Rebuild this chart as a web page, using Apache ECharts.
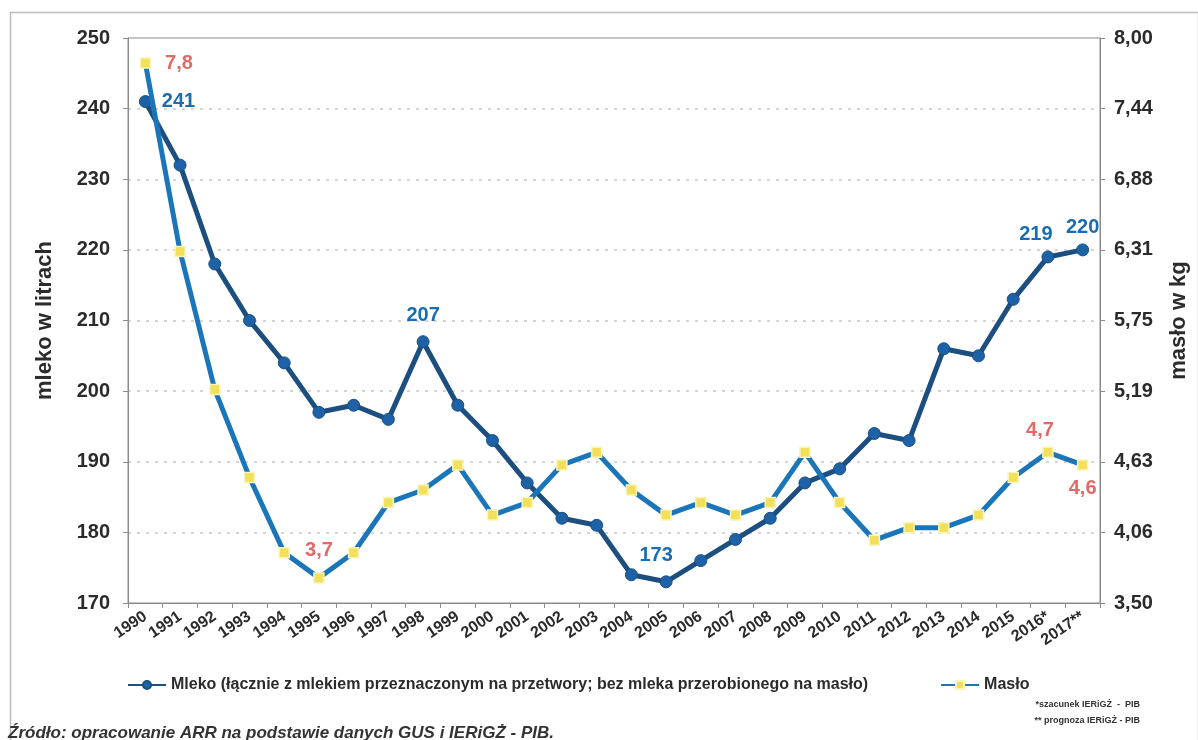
<!DOCTYPE html>
<html>
<head>
<meta charset="utf-8">
<script src="https://cdn.jsdelivr.net/npm/echarts@6/dist/echarts.min.js"></script>
<style>
  html, body { margin: 0; padding: 0; background: #ffffff; }
  #chart { width: 1198px; height: 740px; }
</style>
</head>
<body>
<div id="chart"></div>
<script>
// ---- data ----
const years = ['1990','1991','1992','1993','1994','1995','1996','1997','1998','1999','2000','2001','2002','2003','2004','2005','2006','2007','2008','2009','2010','2011','2012','2013','2014','2015','2016*','2017**'];
const milk = [241, 232, 218, 210, 204, 197, 198, 196, 207, 198, 193, 187, 182, 181, 174, 173, 176, 179, 182, 187, 189, 194, 193, 206, 205, 213, 219, 220];
const butter = [7.8, 6.3, 5.2, 4.5, 3.9, 3.7, 3.9, 4.3, 4.4, 4.6, 4.2, 4.3, 4.6, 4.7, 4.4, 4.2, 4.3, 4.2, 4.3, 4.7, 4.3, 4.0, 4.1, 4.1, 4.2, 4.5, 4.7, 4.6];
const leftTicks = ['170','180','190','200','210','220','230','240','250'];
const rightTicks = ['3,50','4,06','4,63','5,19','5,75','6,31','6,88','7,44','8,00'];
const milkName = 'Mleko (łącznie z mlekiem przeznaczonym na przetwory; bez mleka przerobionego na masło)';
const butterName = 'Masło';
const milkLabelled = [0, 8, 15, 26, 27];
const butterLabelled = [0, 5, 26, 27];

// ---- styling / build ----
const FONT = '"Liberation Sans", Arial, sans-serif';
const milkLabelCfg = {
  0: { position: 'right', distance: 10 },
  8: { position: 'top', distance: 10 },
  15: { position: 'top', distance: 10, offset: [-10, 0] },
  26: { position: 'top', distance: 6, offset: [-12, 0] },
  27: { position: 'top', distance: 6 }
};
const butterLabelCfg = {
  0: { position: 'right', distance: 14 },
  5: { position: 'top', distance: 12 },
  26: { position: 'top', distance: 6, offset: [-8, 0] },
  27: { position: 'bottom', distance: 8 }
};
const milkData = milk.map((v, i) => {
  const it = { value: v };
  if (milkLabelled.includes(i)) {
    it.label = Object.assign({ show: true, color: '#1a6db3', fontWeight: 'bold', fontSize: 20, fontFamily: FONT,
      formatter: p => String(p.value) }, milkLabelCfg[i]);
  }
  return it;
});
const butterData = butter.map((v, i) => {
  const it = { value: v };
  if (butterLabelled.includes(i)) {
    it.label = Object.assign({ show: true, color: '#e06a66', fontWeight: 'bold', fontSize: 20, fontFamily: FONT,
      formatter: p => String(p.value).replace('.', ',') }, butterLabelCfg[i]);
  }
  return it;
});

const chart = echarts.init(document.getElementById('chart'), null, { renderer: 'canvas' });
chart.setOption({
  backgroundColor: '#ffffff',
  animation: false,
  textStyle: { fontFamily: FONT },
  grid: { left: 128, right: 96, top: 38, bottom: 137, show: true, borderColor: '#8a8a8a', borderWidth: 1, backgroundColor: 'transparent' },
  legend: {
    bottom: 42, left: 122,
    itemGap: 72, itemWidth: 38, itemHeight: 10,
    textStyle: { fontSize: 16, fontWeight: 'bold', color: '#2b2b2b', fontFamily: FONT },
    data: [milkName, butterName]
  },
  xAxis: {
    type: 'category', data: years, boundaryGap: true,
    axisLine: { lineStyle: { color: '#8a8a8a', width: 1 } },
    axisTick: { show: true, length: 5, lineStyle: { color: '#8a8a8a' } },
    axisLabel: { rotate: 34, fontSize: 16, fontWeight: 'bold', color: '#2b2b2b', margin: 12, interval: 0 }
  },
  yAxis: [
    {
      type: 'value', min: 170, max: 250, interval: 10,
      name: 'mleko w litrach', nameLocation: 'middle', nameGap: 72, nameRotate: 90,
      nameTextStyle: { fontSize: 22, fontWeight: 'bold', color: '#2b2b2b' },
      axisLine: { show: true, lineStyle: { color: '#8a8a8a' } },
      axisTick: { show: true, length: 5, lineStyle: { color: '#8a8a8a' } },
      axisLabel: { fontSize: 20, fontWeight: 'bold', color: '#2b2b2b', margin: 18,
        formatter: v => leftTicks[Math.round((v - 170) / 10)] },
      splitLine: { show: true, lineStyle: { color: '#c8c8c8', type: [3, 6], width: 1.5 } }
    },
    {
      type: 'value', min: 3.5, max: 8, interval: 0.5625, position: 'right',
      name: 'masło w kg', nameLocation: 'middle', nameGap: 68, nameRotate: 90,
      nameTextStyle: { fontSize: 22, fontWeight: 'bold', color: '#2b2b2b' },
      axisLine: { show: true, lineStyle: { color: '#8a8a8a' } },
      axisTick: { show: true, length: 5, lineStyle: { color: '#8a8a8a' } },
      axisLabel: { fontSize: 20, fontWeight: 'bold', color: '#2b2b2b', margin: 14,
        formatter: v => rightTicks[Math.round((v - 3.5) / 0.5625)] },
      splitLine: { show: false }
    }
  ],
  series: [
    {
      name: milkName, type: 'line', yAxisIndex: 0, data: milkData,
      symbol: 'circle', symbolSize: 12,
      lineStyle: { color: '#1c4f80', width: 5 },
      itemStyle: { color: '#1d62a6', borderColor: '#1c4f80', borderWidth: 1 },
      z: 2
    },
    {
      name: butterName, type: 'line', yAxisIndex: 1, data: butterData,
      symbol: 'rect', symbolSize: 10,
      lineStyle: { color: '#1a76b9', width: 5 },
      itemStyle: { color: '#f2e05a', borderColor: '#fbf3b8', borderWidth: 1.5 },
      z: 3
    }
  ],
  graphic: [
    { type: 'rect', left: 8, top: 10, shape: { width: 1188, height: 740 }, style: { fill: 'none', stroke: '#bdbdbd', lineWidth: 1.5 }, silent: true, z: -1 },
    { type: 'text', right: 58, top: 700, style: { text: '*szacunek IERiGŻ  -  PIB', fontSize: 9, fontWeight: 'bold', fill: '#333', fontFamily: FONT } },
    { type: 'text', right: 58, top: 716, style: { text: '** prognoza IERiGŻ - PIB', fontSize: 9, fontWeight: 'bold', fill: '#333', fontFamily: FONT } },
    { type: 'text', left: 8, top: 725, style: { text: 'Źródło: opracowanie ARR na podstawie danych GUS i IERiGŻ - PIB.', fontSize: 17, fontWeight: 'bold', fontStyle: 'italic', fill: '#333', fontFamily: FONT } }
  ]
});
</script>
</body>
</html>
